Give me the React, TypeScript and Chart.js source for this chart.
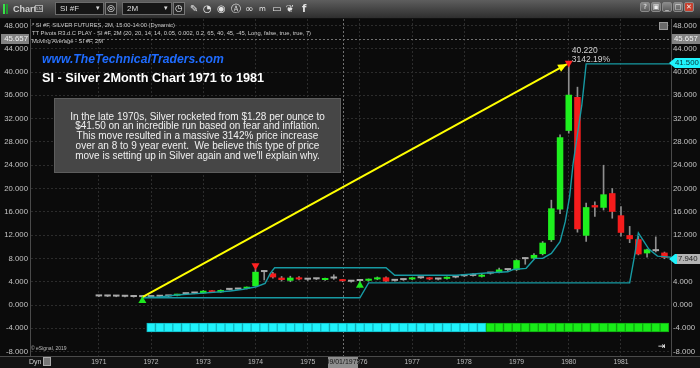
import React, { useEffect, useRef } from 'react';
import { Chart, registerables } from 'chart.js';

Chart.register(...registerables);

const FONT = '"Liberation Sans", Arial, Helvetica, sans-serif';

// ---------------- data ----------------
const yearLabels = ['1971', '1972', '1973', '1974', '1975', '1976', '1977', '1978', '1979', '1980', '1981'];
const yearTickIndex = [0, 6, 12, 18, 24, 30, 36, 42, 48, 54, 60];

// 2-month bars, index 0 = Jan 1971
const opens = [1.50, 1.48, 1.47, 1.45, 1.42, 1.38, 1.36, 1.42, 1.48, 1.60,
  1.86, 1.98, 2.00, 2.40, 2.18, 2.60, 2.66, 2.80, 3.26, 5.72,
  5.43, 4.70, 4.17, 4.75, 4.40, 4.45, 4.30, 4.60, 4.30, 4.05,
  4.12, 4.17, 4.40, 4.75, 4.17, 4.28, 4.40, 4.60, 4.63, 4.40,
  4.50, 4.73, 4.95, 5.00, 4.86, 5.40, 5.55, 6.00, 6.00, 7.88,
  8.00, 8.75, 11.15, 16.40, 29.90, 35.70, 11.90, 17.15, 16.70, 19.20,
  15.40, 12.00, 11.30, 8.87, 9.30, 9.00];
const closes = [1.48, 1.47, 1.45, 1.42, 1.38, 1.36, 1.42, 1.48, 1.52, 1.83,
  1.90, 2.05, 2.45, 2.18, 2.57, 2.64, 2.72, 3.03, 5.70, 5.66,
  4.75, 4.30, 4.70, 4.40, 4.35, 4.42, 4.55, 4.55, 4.10, 4.00,
  4.15, 4.40, 4.75, 4.06, 4.15, 4.30, 4.63, 4.63, 4.40, 4.38,
  4.75, 4.75, 4.97, 5.02, 5.20, 5.42, 6.10, 6.02, 7.70, 7.96,
  8.60, 10.70, 16.60, 28.80, 36.10, 13.00, 16.80, 16.75, 19.00, 16.00,
  12.40, 11.30, 8.70, 9.55, 9.25, 8.10];
const highs = [1.53, 1.51, 1.50, 1.48, 1.45, 1.42, 1.45, 1.51, 1.55, 1.86,
  1.94, 2.10, 2.50, 2.48, 2.62, 2.70, 2.76, 3.10, 6.20, 5.90,
  5.60, 4.90, 4.95, 4.90, 4.50, 4.55, 4.62, 5.20, 4.40, 4.12,
  4.20, 4.48, 4.82, 4.85, 4.24, 4.36, 4.70, 4.70, 4.70, 4.46,
  4.82, 4.82, 5.05, 5.40, 5.30, 5.50, 6.35, 6.10, 7.80, 8.10,
  8.85, 10.90, 18.00, 29.20, 41.30, 37.40, 17.50, 17.70, 24.00, 20.00,
  16.90, 13.50, 11.80, 9.60, 11.70, 9.10];
const lows = [1.45, 1.44, 1.42, 1.39, 1.35, 1.28, 1.33, 1.39, 1.45, 1.57,
  1.82, 1.94, 1.96, 2.12, 2.14, 2.56, 2.62, 2.76, 3.20, 4.30,
  4.60, 4.10, 4.00, 4.30, 4.20, 4.36, 4.24, 4.40, 4.00, 3.92,
  3.95, 4.10, 4.34, 3.98, 4.08, 4.22, 4.34, 4.55, 4.32, 4.30,
  4.42, 4.66, 4.88, 4.94, 4.80, 5.30, 5.50, 5.90, 5.90, 7.00,
  7.90, 8.60, 10.90, 15.70, 29.50, 12.50, 10.90, 15.20, 16.30, 14.90,
  11.80, 10.70, 8.60, 8.20, 9.10, 7.94];

// TT pivot trailing lines (bar index, price)
const upperPivotX = [5, 7, 8.9, 11.6, 15.1, 16.6, 18.1, 19.1, 19.7, 20.2, 33.0, 34.0, 41.1, 44.9, 47.0, 47.6, 49.1, 50.1, 51.0, 52.0, 53.0, 53.6, 54.1, 54.5, 55.5, 56.0, 65.75];
const upperPivotY = [1.28, 1.4, 1.71, 2.0, 2.4, 2.7, 3.14, 3.72, 5.44, 6.4, 6.4, 5.1, 5.1, 5.54, 5.7, 6.1, 6.3, 8.0, 8.0, 8.87, 10.86, 14.3, 18.6, 24.3, 34.3, 41.4, 41.4];
const lowerPivotX = [5, 30, 31, 61.0, 61.6, 62.0, 63.2, 64.2, 65.75];
const lowerPivotY = [1.25, 1.25, 3.8, 3.8, 8.8, 12.4, 9.6, 8.4, 8.2];

// yellow arrow from the 1971 low to the 1980 high
const arrowX = [5, 53.8];
const arrowY = [1.37, 41.37];

// pivot markers
const buyMarkX = [5, 30];
const buyMarkY = [0.76, 3.38];
const sellMarkX = [18, 54];
const sellMarkY = [6.76, 41.55];

// bottom signal strip
const signalFirst = 6;
const signalFlip = 45; // green from here on
const signalLast = 65;
const signalLow = -4.63;
const signalHigh = -3.09;

const yMin = -8.75;
const yMax = 49.1;
const yStep = 4;
const xMin = -7.8;
const xMax = 65.75;

const crossIndex = 28;
const crossDate = '09/01/1975';
const crossValue = 45.657;
const stopValue = 41.5;
const lastValue = 7.94;
const peakPrice = '40.220';
const peakPct = '3142.19%';

const legendLines = [
  '* SI #F, SILVER FUTURES, 2M, 15:00-14:00 (Dynamic)',
  'TT Pivots R3.d.C PLAY - SI #F, 2M (20, 20, 14, 14, 0.05, 0.002, 0.2, 65, 40, 45, -45, Long, false, true, true, 7)',
  'Moving Average - SI #F, 2M',
];
const siteTitle = 'www.TheTechnicalTraders.com';
const chartTitle = 'SI - Silver 2Month Chart 1971 to 1981';
const noteLines = [
  'In the late 1970s, Silver rocketed from $1.28 per ounce to',
  '$41.50 on an incredible run based on fear and inflation.',
  'This move resulted in a massive 3142% price increase',
  'over an 8 to 9 year event.  We believe this type of price',
  "move is setting up in Silver again and we'll explain why.",
];

// ---------------- colours ----------------
const UP = '#1ef01e';
const DOWN = '#f51c1c';
const DOJI = '#a9a9a9';
const WICK = '#8e8e8e';
const PIVOT = '#179aa3';
const CYAN = '#1ff2fb';
const GREEN = '#18ec18';

const overlayPlugin = {
  id: 'overlay',
  beforeDraw(chart: any) {
    const { ctx, width, height, chartArea: a } = chart;
    ctx.save();
    ctx.fillStyle = '#0b0b0b';
    ctx.fillRect(0, 0, width, height);
    ctx.fillStyle = '#131313';
    ctx.fillRect(0, a.bottom, width, height - a.bottom);
    ctx.restore();
  },
  beforeDatasetsDraw(chart: any) {
    const { ctx, chartArea: a, scales } = chart;
    const cx = Math.round(scales.x.getPixelForValue(crossIndex)) + 0.5;
    const cy = Math.round(scales.y.getPixelForValue(crossValue)) + 0.5;
    ctx.save();
    ctx.strokeStyle = '#707070';
    ctx.lineWidth = 1;
    ctx.setLineDash([2, 2]);
    ctx.beginPath();
    ctx.moveTo(a.left, cy);
    ctx.lineTo(a.right, cy);
    ctx.moveTo(cx, a.top);
    ctx.lineTo(cx, a.bottom);
    ctx.stroke();
    ctx.restore();
  },
  afterDatasetsDraw(chart: any) {
    const { ctx, scales } = chart;
    const sx = (v: number) => scales.x.getPixelForValue(v);
    const sy = (v: number) => scales.y.getPixelForValue(v);
    const x1 = sx(arrowX[0]), y1 = sy(arrowY[0]);
    const x2 = sx(arrowX[1]), y2 = sy(arrowY[1]);
    const ang = Math.atan2(y2 - y1, x2 - x1);
    const L = 9, W = 4;
    ctx.save();
    ctx.fillStyle = '#ffff00';
    ctx.beginPath();
    ctx.moveTo(x2, y2);
    ctx.lineTo(x2 - L * Math.cos(ang) + W * Math.sin(ang), y2 - L * Math.sin(ang) - W * Math.cos(ang));
    ctx.lineTo(x2 - L * Math.cos(ang) - W * Math.sin(ang), y2 - L * Math.sin(ang) + W * Math.cos(ang));
    ctx.closePath();
    ctx.fill();
    const px = sx(sellMarkX[1]) + 3;
    const py = sy(sellMarkY[1]);
    ctx.font = `8.5px ${FONT}`;
    ctx.fillStyle = '#d2d2d2';
    ctx.textBaseline = 'middle';
    ctx.textAlign = 'left';
    ctx.fillText(peakPrice, px, py - 12.3);
    ctx.fillText(peakPct, px, py - 3.7);
    ctx.restore();
  },
  afterDraw(chart: any) {
    const { ctx, chartArea: a, scales, width } = chart;
    const sx = (v: number) => scales.x.getPixelForValue(v);
    const sy = (v: number) => scales.y.getPixelForValue(v);
    ctx.save();
    ctx.strokeStyle = '#4a4a4a';
    ctx.lineWidth = 1;
    ctx.beginPath();
    ctx.moveTo(a.left - 0.5, a.top);
    ctx.lineTo(a.left - 0.5, a.bottom);
    ctx.moveTo(a.right + 0.5, a.top);
    ctx.lineTo(a.right + 0.5, a.bottom);
    ctx.moveTo(0, a.bottom + 0.5);
    ctx.lineTo(width, a.bottom + 0.5);
    ctx.stroke();

    ctx.font = `7.8px ${FONT}`;
    ctx.textBaseline = 'middle';
    // crosshair value boxes
    const yc = Math.round(sy(crossValue));
    ctx.fillStyle = '#828282';
    ctx.fillRect(a.right + 1, yc - 5, width - a.right - 1, 10);
    ctx.fillRect(1, yc - 5, a.left - 3, 10);
    ctx.fillStyle = '#f2f2f2';
    ctx.textAlign = 'left';
    ctx.fillText(crossValue.toFixed(3), a.right + 3, yc);
    ctx.textAlign = 'right';
    ctx.fillText(crossValue.toFixed(3), a.left - 3, yc);

    // stop value (cyan tag)
    const ys = Math.round(sy(stopValue));
    ctx.fillStyle = CYAN;
    ctx.beginPath();
    ctx.moveTo(a.right - 2, ys);
    ctx.lineTo(a.right + 4, ys - 5);
    ctx.lineTo(width, ys - 5);
    ctx.lineTo(width, ys + 5);
    ctx.lineTo(a.right + 4, ys + 5);
    ctx.closePath();
    ctx.fill();
    ctx.fillStyle = '#06363a';
    ctx.textAlign = 'left';
    ctx.fillText(stopValue.toFixed(3), a.right + 4, ys);

    // last value tag
    const yl = Math.round(sy(lastValue));
    ctx.fillStyle = CYAN;
    ctx.beginPath();
    ctx.moveTo(a.right - 2, yl);
    ctx.lineTo(a.right + 4, yl - 5);
    ctx.lineTo(a.right + 6, yl - 5);
    ctx.lineTo(a.right + 6, yl + 5);
    ctx.lineTo(a.right + 4, yl + 5);
    ctx.closePath();
    ctx.fill();
    ctx.fillStyle = '#b4b4b4';
    ctx.fillRect(a.right + 6, yl - 5, width - a.right - 6, 10);
    ctx.fillStyle = '#1c1c1c';
    ctx.fillText(lastValue.toFixed(3), a.right + 7, yl);

    // crosshair date box
    const xc = Math.round(sx(crossIndex));
    ctx.fillStyle = '#8e8e8e';
    ctx.fillRect(xc - 15, a.bottom + 1, 30, 11);
    ctx.fillStyle = '#141414';
    ctx.font = `7px ${FONT}`;
    ctx.textAlign = 'center';
    ctx.fillText(crossDate, xc, a.bottom + 6.5);
    ctx.restore();
  },
};

const abs = (s: React.CSSProperties): React.CSSProperties => ({ position: 'absolute', ...s });

function Toolbar() {
  const box = (left: number, width: number, text: string, extra: React.CSSProperties = {}) => (
    <div style={abs({ left, top: 2, width, height: 13, boxSizing: 'border-box', background: '#161616', border: '1px solid #6b6b6b', color: '#dedede', fontSize: 8, lineHeight: '11px', paddingLeft: 4, ...extra })}>{text}</div>
  );
  const icons = [
    { x: 190, t: '\u270E' },
    { x: 203, t: '\u25D4' },
    { x: 217, t: '\u25C9' },
    { x: 231, t: '\u24B6' },
    { x: 245, t: '\u221E' },
    { x: 259, t: 'm', s: 7 },
    { x: 272, t: '\u25AD' },
    { x: 286, t: '\u2766' },
    { x: 302, t: 'f' },
  ];
  const winBtns = ['?', '\u25A3', '_', '\u25A1', '\u2715'];
  return (
    <div style={abs({ left: 0, top: 0, width: 700, height: 18, background: 'linear-gradient(#5e5e5e, #434343 55%, #2e2e2e)', borderBottom: '1px solid #111' })}>
      <div style={abs({ left: 3, top: 4, width: 2, height: 10, background: '#3ae04a' })} />
      <div style={abs({ left: 6, top: 4, width: 2, height: 10, background: '#1f9a2d' })} />
      <div style={abs({ left: 13, top: 3, fontSize: 9, fontWeight: 'bold', color: '#d0d0d0', lineHeight: '12px' })}>Chart</div>
      <div style={abs({ left: 35, top: 5, width: 8, height: 7, border: '1px solid #aaa', boxSizing: 'border-box', fontSize: 4, color: '#ccc', lineHeight: '5px', textAlign: 'center' })}>LN</div>
      {box(55, 49, 'SI #F')}
      <div style={abs({ left: 96, top: 4, fontSize: 7, color: '#ddd' })}>{'\u25BE'}</div>
      <div style={abs({ left: 105, top: 2, width: 12, height: 13, boxSizing: 'border-box', background: '#262626', border: '1px solid #777', color: '#eee', fontSize: 9, lineHeight: '11px', textAlign: 'center', fontFamily: '"DejaVu Sans"' })}>{'\u25CE'}</div>
      {box(122, 50, '2M')}
      <div style={abs({ left: 164, top: 4, fontSize: 7, color: '#ddd' })}>{'\u25BE'}</div>
      <div style={abs({ left: 173, top: 2, width: 12, height: 13, boxSizing: 'border-box', background: '#262626', border: '1px solid #777', color: '#eee', fontSize: 9, lineHeight: '11px', textAlign: 'center', fontFamily: '"DejaVu Sans"' })}>{'\u25F7'}</div>
      {icons.map((ic, k) => (
        <div key={k} style={abs({ left: ic.x, top: 2, fontSize: ic.s || 10, color: '#e4e4e4', lineHeight: '14px', fontFamily: '"DejaVu Sans"', fontWeight: ic.t === 'f' ? 'bold' : 'normal' })}>{ic.t}</div>
      ))}
      {winBtns.map((t, k) => (
        <div key={k} style={abs({ left: 640 + k * 11, top: 2, width: 10, height: 10, boxSizing: 'border-box', border: '1px solid #8a8a8a', borderRadius: 2, background: k === 4 ? '#c8412f' : 'linear-gradient(#8a8a8a,#5a5a5a)', color: '#f0f0f0', fontSize: 7, lineHeight: '8px', textAlign: 'center', fontFamily: '"DejaVu Sans"' })}>{t}</div>
      ))}
    </div>
  );
}

export default function App() {
  const canvasRef = useRef<HTMLCanvasElement | null>(null);

  useEffect(() => {
    document.body.style.margin = '0';
    const canvas = canvasRef.current;
    if (!canvas) return;

    const idx = opens.map((_, i) => i);
    const bodyData = idx.map((i) => ({ x: i, y: [opens[i], closes[i]] }));
    const wickData = idx.map((i) => ({ x: i, y: [lows[i], highs[i]] }));
    const bodyColors = idx.map((i) =>
      Math.abs(closes[i] - opens[i]) < 0.1 ? DOJI : closes[i] > opens[i] ? UP : DOWN
    );
    const signalIdx: number[] = [];
    for (let i = signalFirst; i <= signalLast; i++) signalIdx.push(i);
    const signalData = signalIdx.map((i) => ({ x: i, y: [signalLow, signalHigh] }));
    const signalFill = signalIdx.map((i) => (i < signalFlip ? CYAN : GREEN));
    const signalEdge = signalIdx.map((i) => (i < signalFlip ? '#12b9c4' : '#10a810'));

    const tickFont = { family: FONT, size: 7.8 };

    const chart = new Chart(canvas, {
      type: 'bar',
      data: {
        datasets: [
          {
            type: 'bar',
            data: signalData as any,
            backgroundColor: signalFill,
            borderColor: signalEdge,
            borderWidth: 1,
            borderSkipped: false,
            categoryPercentage: 1,
            barPercentage: 1,
            grouped: false,
            order: 10,
          } as any,
          {
            type: 'bar',
            data: wickData as any,
            backgroundColor: WICK,
            borderWidth: 0,
            borderSkipped: false,
            categoryPercentage: 1,
            barPercentage: 1,
            maxBarThickness: 1,
            grouped: false,
            order: 6,
          } as any,
          {
            type: 'bar',
            data: bodyData as any,
            backgroundColor: bodyColors,
            borderWidth: 0,
            borderSkipped: false,
            categoryPercentage: 1,
            barPercentage: 0.75,
            minBarLength: 2,
            grouped: false,
            order: 5,
          } as any,
          {
            type: 'line',
            data: upperPivotX.map((x, i) => ({ x, y: upperPivotY[i] })),
            borderColor: PIVOT,
            borderWidth: 1.4,
            pointRadius: 0,
            tension: 0,
            order: 4,
          } as any,
          {
            type: 'line',
            data: lowerPivotX.map((x, i) => ({ x, y: lowerPivotY[i] })),
            borderColor: PIVOT,
            borderWidth: 1.4,
            pointRadius: 0,
            tension: 0,
            order: 4,
          } as any,
          {
            type: 'line',
            data: arrowX.map((x, i) => ({ x, y: arrowY[i] })),
            borderColor: '#ffff00',
            borderWidth: 2,
            pointRadius: 0,
            order: 2,
          } as any,
          {
            type: 'scatter',
            data: buyMarkX.map((x, i) => ({ x, y: buyMarkY[i] })),
            pointStyle: 'triangle',
            pointRadius: 4.6,
            backgroundColor: '#1ee81e',
            borderWidth: 0,
            order: 1,
          } as any,
          {
            type: 'scatter',
            data: sellMarkX.map((x, i) => ({ x, y: sellMarkY[i] })),
            pointStyle: 'triangle',
            rotation: 180,
            pointRadius: 4.6,
            backgroundColor: '#ff2222',
            borderWidth: 0,
            order: 1,
          } as any,
        ],
      },
      options: {
        responsive: false,
        animation: false,
        devicePixelRatio: 1,
        events: [],
        layout: { padding: { top: 19, left: 0, right: 0, bottom: 0 } },
        plugins: { legend: { display: false }, tooltip: { enabled: false } },
        scales: {
          x: {
            type: 'linear',
            min: xMin,
            max: xMax,
            offset: false,
            grid: { offset: false, color: '#2c2c2c', drawTicks: false, lineWidth: 1 },
            border: { display: false, dash: [2, 2] },
            ticks: {
              color: '#bdbdbd',
              font: { family: FONT, size: 6.8 },
              padding: 2,
              maxRotation: 0,
              autoSkip: false,
              callback: (v: any) => {
                const k = yearTickIndex.indexOf(Number(v));
                return k >= 0 ? yearLabels[k] : '';
              },
            },
            afterBuildTicks: (s: any) => {
              s.ticks = yearTickIndex.map((v) => ({ value: v }));
            },
            afterFit: (s: any) => {
              s.height = 12;
            },
          },
          y: {
            type: 'linear',
            position: 'right',
            min: yMin,
            max: yMax,
            grid: { color: '#2c2c2c', drawTicks: false, lineWidth: 1 },
            border: { display: false, dash: [2, 2] },
            ticks: {
              stepSize: yStep,
              includeBounds: false,
              color: '#c4c4c4',
              font: tickFont,
              padding: 2,
              callback: (v: any) => Number(v).toFixed(3),
            },
            afterFit: (s: any) => {
              s.width = 29;
            },
          },
          yl: {
            type: 'linear',
            position: 'left',
            min: yMin,
            max: yMax,
            grid: { display: false, drawTicks: false },
            border: { display: false },
            ticks: {
              stepSize: yStep,
              includeBounds: false,
              color: '#c4c4c4',
              font: tickFont,
              padding: 3,
              callback: (v: any) => Number(v).toFixed(3),
            },
            afterFit: (s: any) => {
              s.width = 31;
            },
          },
        },
      } as any,
      plugins: [overlayPlugin],
    });

    return () => chart.destroy();
  }, []);

  return (
    <div style={{ position: 'fixed', left: 0, top: 0, width: 700, height: 368, overflow: 'hidden', background: '#0b0b0b', fontFamily: FONT }}>
      <canvas ref={canvasRef} width={700} height={368} style={abs({ left: 0, top: 0, width: 700, height: 368 })} />
      <Toolbar />
      {legendLines.map((t, k) => (
        <div key={k} style={abs({ left: 32, top: 21.5 + k * 8.3, fontSize: 5.8, lineHeight: '7px', color: '#cdcdcd', whiteSpace: 'pre' })}>{t}</div>
      ))}
      <div style={abs({ left: 659, top: 22, width: 9, height: 8, background: '#6a6a6a', border: '1px solid #999', boxSizing: 'border-box' })} />
      <div style={abs({ left: 42, top: 52, fontSize: 12.2, lineHeight: '15px', fontWeight: 'bold', fontStyle: 'italic', color: '#1f6cff', whiteSpace: 'pre' })}>{siteTitle}</div>
      <div style={abs({ left: 42, top: 70.5, fontSize: 12.7, lineHeight: '15px', fontWeight: 'bold', color: '#ffffff', whiteSpace: 'pre' })}>{chartTitle}</div>
      <div style={abs({ left: 54, top: 98, width: 287, height: 75, boxSizing: 'border-box', background: '#464646', border: '1px solid #5d5d5d', paddingTop: 12.5 })}>
        {noteLines.map((t, k) => (
          <div key={k} style={{ textAlign: 'center', color: '#f0f0f0', fontSize: 10, lineHeight: '9.8px', whiteSpace: 'pre' }}>{t}</div>
        ))}
      </div>
      <div style={abs({ left: 31, top: 345, fontSize: 5, color: '#bdbdbd', whiteSpace: 'pre' })}>{'\u00A9 eSignal, 2019'}</div>
      <div style={abs({ left: 658, top: 341, fontSize: 9, color: '#f0f0f0', fontFamily: '"DejaVu Sans"' })}>{'\u21E5'}</div>
      <div style={abs({ left: 29, top: 357, fontSize: 7, lineHeight: '10px', color: '#cfcfcf' })}>Dyn</div>
      <div style={abs({ left: 43, top: 357, width: 8, height: 9, boxSizing: 'border-box', background: '#777', border: '1px solid #aaa' })} />
    </div>
  );
}
